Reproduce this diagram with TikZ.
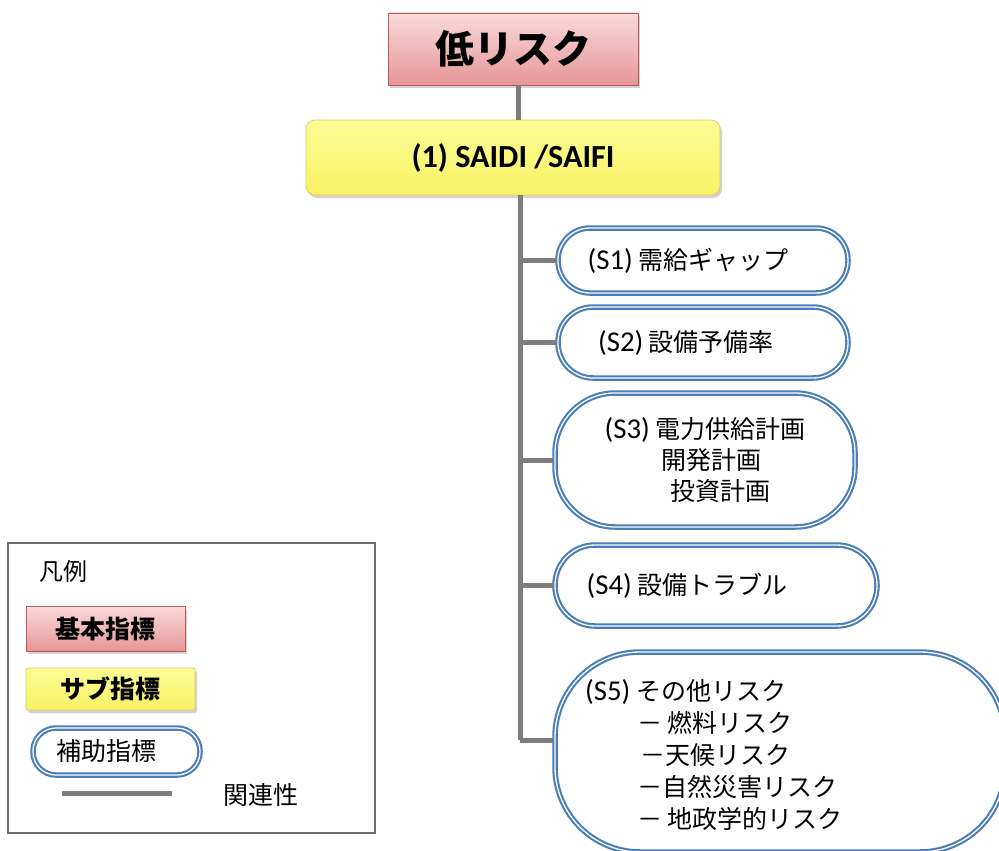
\documentclass[tikz,border=0pt]{standalone}
\usepackage{fontspec}
\setmainfont{Noto Sans CJK JP}
\newfontfamily\lat[Scale=1.15]{Carlito}
\usetikzlibrary{shadows}
\definecolor{pinkT}{RGB}{250,218,218}
\definecolor{pinkB}{RGB}{230,150,152}
\definecolor{pinkD}{RGB}{190,90,90}
\definecolor{yelT}{RGB}{253,252,150}
\definecolor{yelB}{RGB}{248,242,100}
\definecolor{yelD}{RGB}{230,205,90}
\definecolor{ovalblue}{RGB}{74,126,187}
\definecolor{relgray}{RGB}{125,125,125}
\definecolor{legbord}{RGB}{110,110,110}
\tikzset{
  mainbox/.style={rectangle, draw=pinkD, line width=0.8pt, top color=pinkT, bottom color=pinkB,
    inner sep=0pt, text=black, drop shadow={shadow xshift=2pt, shadow yshift=-3pt, opacity=0.35}},
  subbox/.style={rectangle, rounded corners=9pt, draw=yelD, line width=0.8pt, top color=yelT, bottom color=yelB,
    inner sep=0pt, text=black, drop shadow={shadow xshift=2pt, shadow yshift=-3pt, opacity=0.35}},
  oval/.style={rectangle, draw=ovalblue, double=white, double distance=1.3pt, line width=2.1pt,
    fill=white, inner sep=0pt, text=black},
  rel/.style={draw=relgray, line width=5pt},
  big/.style={font=\fontsize{39}{44}\selectfont\bfseries},
  mid/.style={font=\fontsize{25}{31}\selectfont},
  midb/.style={font=\fontsize{25}{31}\selectfont\bfseries},
}
\begin{document}
\begin{tikzpicture}[x=1pt, y=-1pt]
\useasboundingbox (0,0) rectangle (999,851);
\clip (0,0) rectangle (999,851);
\fill[white] (0,0) rectangle (999,851);

% main tree
\coordinate (t5) at (520,740);
\coordinate (tx) at (518,0);
\node[mainbox, big, minimum width=250pt, minimum height=72pt] (top) at (513,49) {低リスク};
\node[subbox, minimum width=414pt, minimum height=75pt,
      font=\fontsize{28}{32}\selectfont\lat\bfseries] (sub) at (513,157.5) {(1) SAIDI /SAIFI};

\node[oval, mid, minimum width=290pt, minimum height=65pt, rounded corners=32pt] (s1) at (703,260.5)
  {{\lat (S1)} 需給ギャップ\hspace{30pt}\mbox{}};
\node[oval, mid, minimum width=290pt, minimum height=71pt, rounded corners=35pt] (s2) at (703,342.5)
  {{\lat (S2)} 設備予備率\hspace{34pt}\mbox{}};
\node[oval, mid, minimum width=300pt, minimum height=134pt, rounded corners=60pt, align=center] (s3) at (705,460)
  {{\lat (S3)} 電力供給計画\\\hspace{12pt}開発計画\\\hspace{30pt}投資計画};
\node[oval, mid, minimum width=322pt, minimum height=81pt, rounded corners=40pt] (s4) at (716,585.5)
  {{\lat (S4)} 設備トラブル\hspace{58pt}\mbox{}};
\node[oval, minimum width=450pt, minimum height=200pt, rounded corners=85pt] (s5) at (780,752) {};
\node[anchor=north west, align=left, inner sep=0pt, font=\fontsize{25}{32}\selectfont] (s5t) at (585,679)
  {{\lat (S5)} その他リスク\\
   \hspace{52pt}－ 燃料リスク\\
   \hspace{55pt}－天候リスク\\
   \hspace{52pt}－自然災害リスク\\
   \hspace{52pt}－ 地政学的リスク};

\draw[rel] (top.south -| tx) -- (sub.north -| tx);
\draw[rel] (sub.south -| t5) -- (t5);
\foreach \n in {s1,s2,s3,s4} { \draw[rel] (\n.west -| t5) -- (\n.west); }
\draw[rel] (t5) -- (s5.west |- t5);

% legend
\node[rectangle, draw=legbord, line width=1.2pt, minimum width=367pt, minimum height=290pt, inner sep=0pt] (legend) at (191.5,688) {};
\node[font=\fontsize{24}{28}\selectfont] (lgtitle) at (63,571) {凡例};
\node[mainbox, midb, minimum width=159pt, minimum height=45pt] (lgmain) at (105.5,628.5) {基本指標};
\node[subbox, rounded corners=2pt, midb, minimum width=169pt, minimum height=42pt] (lgsub) at (110.5,689) {サブ指標};
\node[oval, mid, minimum width=167pt, minimum height=47pt, rounded corners=23pt] (lgoval) at (116.5,751.5) {補助指標\hspace{20pt}\mbox{}};
\coordinate (la) at (62,793);
\coordinate (lb) at (172,793);
\draw[rel] (la) -- (lb);
\node[mid] (lgrel) at (261,795) {関連性};
\end{tikzpicture}
\end{document}
